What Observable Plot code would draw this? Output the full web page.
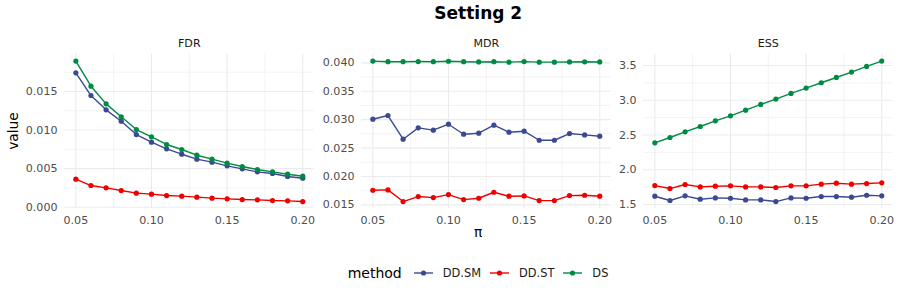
<!DOCTYPE html>
<html>
<head>
<meta charset="utf-8">
<script src="https://cdn.jsdelivr.net/npm/d3@7"></script>
<script src="https://cdn.jsdelivr.net/npm/@observablehq/plot@0.6"></script>
<style>
  body { margin: 0; background: #fff; font-family: "DejaVu Sans", sans-serif; }
  #wrap { position: relative; width: 900px; height: 300px; overflow: hidden; background: #fff; }
  .abs { position: absolute; white-space: nowrap; }
  #title { font-weight: bold; font-size: 17px; color: #000; transform: translateX(-50%); }
  #ytitle { font-size: 13.75px; color: #000; transform: translate(-50%, -50%) rotate(-90deg); }
  #xtitle { font-size: 13.75px; color: #000; transform: translate(-50%, -50%); }
  #legend { display: flex; align-items: center; height: 20px; }
  #legend .lt { font-size: 14px; color: #000; margin-right: 12px; }
  #legend .ll { font-size: 11.4px; color: #1A1A1A; margin-left: 10px; margin-right: 9px; }
  .panel { position: absolute; top: 30px; }
</style>
</head>
<body>
<div id="wrap"></div>
<script>
// ---- data ----
const piVals = [0.05, 0.06, 0.07, 0.08, 0.09, 0.10, 0.11, 0.12, 0.13, 0.14, 0.15, 0.16, 0.17, 0.18, 0.19, 0.20];
const methods = ["DD.SM", "DD.ST", "DS"];
const colors = ["#3B4992", "#EE0000", "#008B45"];
const panelNames = ["FDR", "MDR", "ESS"];

const fdrDDSM = [0.01742, 0.01448, 0.01262, 0.01115, 0.00942, 0.00843, 0.00757, 0.00687, 0.00623, 0.00584, 0.00536, 0.00497, 0.00458, 0.00437, 0.00398, 0.00376];
const fdrDDST = [0.00363, 0.00281, 0.00251, 0.00216, 0.00182, 0.00169, 0.00151, 0.00143, 0.00130, 0.00117, 0.00108, 0.00099, 0.00095, 0.00086, 0.00082, 0.00073];
const fdrDS   = [0.01894, 0.01569, 0.01340, 0.01172, 0.01007, 0.00912, 0.00813, 0.00748, 0.00674, 0.00623, 0.00571, 0.00527, 0.00489, 0.00458, 0.00428, 0.00402];

const mdrDDSM = [0.03008, 0.03073, 0.02656, 0.02856, 0.02815, 0.02920, 0.02744, 0.02762, 0.02903, 0.02779, 0.02797, 0.02638, 0.02638, 0.02756, 0.02732, 0.02709];
const mdrDDST = [0.01758, 0.01764, 0.01559, 0.01647, 0.01629, 0.01682, 0.01594, 0.01617, 0.01723, 0.01653, 0.01658, 0.01576, 0.01576, 0.01664, 0.01670, 0.01653];
const mdrDS   = [0.04030, 0.04020, 0.04020, 0.04022, 0.04020, 0.04028, 0.04020, 0.04015, 0.04020, 0.04012, 0.04022, 0.04012, 0.04012, 0.04015, 0.04018, 0.04015];

const essDDSM = [1.620, 1.558, 1.625, 1.577, 1.596, 1.591, 1.567, 1.567, 1.543, 1.596, 1.591, 1.615, 1.615, 1.606, 1.634, 1.625];
const essDDST = [1.773, 1.730, 1.788, 1.754, 1.764, 1.769, 1.754, 1.754, 1.745, 1.769, 1.769, 1.793, 1.807, 1.793, 1.802, 1.812];
const essDS   = [2.387, 2.464, 2.546, 2.622, 2.704, 2.776, 2.857, 2.939, 3.016, 3.097, 3.174, 3.251, 3.327, 3.404, 3.486, 3.562];

const xTicks = [0.05, 0.10, 0.15, 0.20];
const xMinor = [0.075, 0.125, 0.175];
const fdrTicks = [0, 0.005, 0.010, 0.015];
const fdrMinor = [0.0025, 0.0075, 0.0125, 0.0175];
const mdrTicks = [0.015, 0.020, 0.025, 0.030, 0.035, 0.040];
const mdrMinor = [0.0175, 0.0225, 0.0275, 0.0325, 0.0375];
const essTicks = [1.5, 2.0, 2.5, 3.0, 3.5];
const essMinor = [1.75, 2.25, 2.75, 3.25];

const titleText = "Setting 2";
const yTitle = "value";
const xTitle = "π";
const legendTitle = "method";

// ---- layout ----
const wrap = document.getElementById("wrap");
const ML = 50, MR = 5, INNER_W = 249.6, SVG_H = 220, MT = 23.6, MB = 41.9;
const panelLefts = [63.7, 361.0, 643.2];

function makePanel(name, series, yTicks, yMinor, fmt, innerLeft) {
  const rows = [];
  methods.forEach((m, i) => series[i].forEach((v, j) => rows.push({pi: piVals[j], value: v, method: m})));
  const ye = d3.extent(rows, d => d.value), yp = (ye[1] - ye[0]) * 0.05;
  const xe = d3.extent(piVals), xp = (xe[1] - xe[0]) * 0.05;
  const grid = {stroke: "#EBEBEB", strokeOpacity: 1};
  const svg = Plot.plot({
    width: ML + INNER_W + MR,
    height: SVG_H,
    marginLeft: ML, marginRight: MR, marginTop: MT, marginBottom: MB,
    x: {domain: [xe[0] - xp, xe[1] + xp]},
    y: {domain: [ye[0] - yp, ye[1] + yp]},
    color: {domain: methods, range: colors},
    style: {fontFamily: "DejaVu Sans, sans-serif", fontSize: "11px", color: "#4D4D4D", background: "transparent", overflow: "visible"},
    marks: [
      Plot.gridX(xMinor, {...grid, strokeWidth: 0.6}),
      Plot.gridY(yMinor, {...grid, strokeWidth: 0.6}),
      Plot.gridX(xTicks, {...grid, strokeWidth: 1.1}),
      Plot.gridY(yTicks, {...grid, strokeWidth: 1.1}),
      Plot.axisX(xTicks, {tickSize: 0, tickPadding: 8, tickFormat: ".2f", label: null, fontSize: 11.1}),
      Plot.axisY(yTicks, {tickSize: 0, tickPadding: 7, tickFormat: fmt, label: null, fontSize: 11.1}),
      Plot.line(rows, {x: "pi", y: "value", z: "method", stroke: "method", strokeWidth: 1.4}),
      Plot.dot(rows, {x: "pi", y: "value", fill: "method", r: 2.6}),
      Plot.text([name], {text: d => d, frameAnchor: "top", dy: -10.3, lineAnchor: "middle", fill: "#1A1A1A", fontSize: 11.1})
    ]
  });
  svg.classList.add("panel");
  svg.style.left = (innerLeft - ML) + "px";
  wrap.appendChild(svg);
}

makePanel(panelNames[0], [fdrDDSM, fdrDDST, fdrDS], fdrTicks, fdrMinor, ".3f", panelLefts[0]);
makePanel(panelNames[1], [mdrDDSM, mdrDDST, mdrDS], mdrTicks, mdrMinor, ".3f", panelLefts[1]);
makePanel(panelNames[2], [essDDSM, essDDST, essDS], essTicks, essMinor, ".1f", panelLefts[2]);

const centerX = (panelLefts[0] + panelLefts[2] + INNER_W) / 2;
const panelTop = 30 + MT, panelBottom = 30 + SVG_H - MB;

const t = document.createElement("div");
t.id = "title"; t.className = "abs"; t.textContent = titleText;
t.style.left = centerX + "px"; t.style.top = "3px";
wrap.appendChild(t);

const yt = document.createElement("div");
yt.id = "ytitle"; yt.className = "abs"; yt.textContent = yTitle;
yt.style.left = "12.5px"; yt.style.top = ((panelTop + panelBottom) / 2) + "px";
wrap.appendChild(yt);

const xt = document.createElement("div");
xt.id = "xtitle"; xt.className = "abs"; xt.textContent = xTitle;
xt.style.left = centerX + "px"; xt.style.top = "232px";
wrap.appendChild(xt);

const lg = document.createElement("div");
lg.id = "legend"; lg.className = "abs";
lg.style.left = "347.7px"; lg.style.top = "263px";
const lt = document.createElement("span"); lt.className = "lt"; lt.textContent = legendTitle;
lg.appendChild(lt);
methods.forEach((m, i) => {
  const ns = "http://www.w3.org/2000/svg";
  const s = document.createElementNS(ns, "svg");
  s.setAttribute("width", 19); s.setAttribute("height", 10);
  const ln = document.createElementNS(ns, "line");
  ln.setAttribute("x1", 0); ln.setAttribute("x2", 19); ln.setAttribute("y1", 5); ln.setAttribute("y2", 5);
  ln.setAttribute("stroke", colors[i]); ln.setAttribute("stroke-width", 1.4);
  const c = document.createElementNS(ns, "circle");
  c.setAttribute("cx", 9.5); c.setAttribute("cy", 5); c.setAttribute("r", 2.6); c.setAttribute("fill", colors[i]);
  s.appendChild(ln); s.appendChild(c);
  lg.appendChild(s);
  const l = document.createElement("span"); l.className = "ll"; l.textContent = m;
  lg.appendChild(l);
});
wrap.appendChild(lg);
</script>
</body>
</html>
